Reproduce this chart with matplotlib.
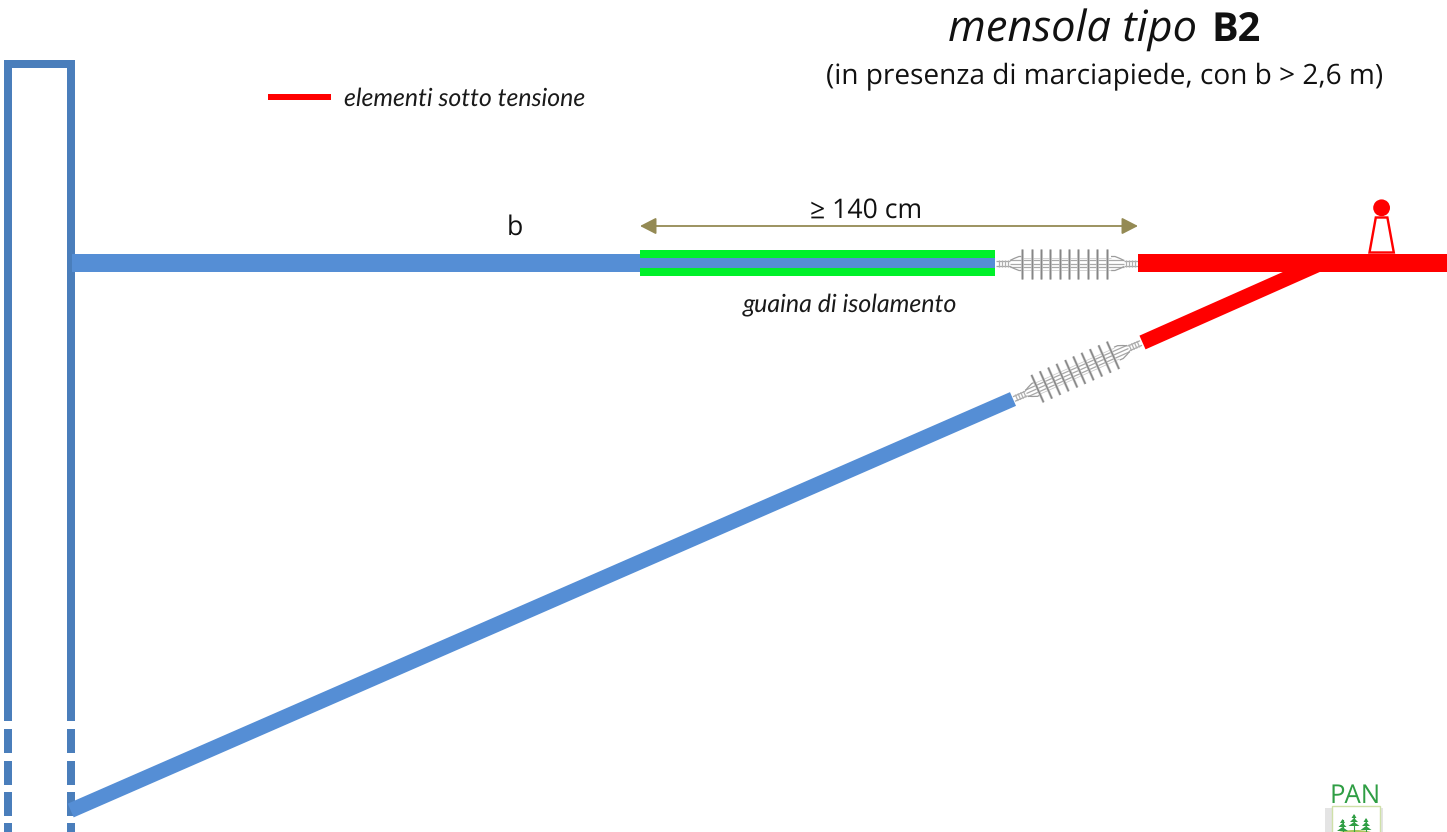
import matplotlib
matplotlib.use("Agg")
import matplotlib.pyplot as plt
from matplotlib.patches import Circle, Rectangle, Polygon, Ellipse
from numpy import array, hypot

plt.rcParams['text.hinting'] = 'none'

# everything is in picture pixels, y pointing down
W, H = 1447, 832
BLUE_POLE = '#4a7ebb'
BLUE_ARM = '#558ed5'
RED = '#ff0000'
GREEN = '#00f02a'
OLIVE = '#948a54'
GREY = '#9c9c9c'
LOGO_GREEN = '#2f9e44'

pole_x = [7.5, 71]
pole_top = 64
pole_solid_end = 721
dash_starts = [729, 760.5, 792, 823]
dash_len = 24

arm_start = 72
arm_end = 995
arm_y = 263
sleeve_start = 640
red_arm = [1138, 1447]

strut_blue = [(70.7, 810.5), (1013, 399)]
strut_red = [(1142.5, 342.5), (1322, 262.8)]

ins_h = [(996, 263.5), (1138, 263.5)]
ins_d = [(1014, 399), (1141, 343)]
shed_pos = [26.3, 35.7, 45, 54.3, 64, 73, 82.3, 91.7, 101.3, 110.7]
pin_rings = [3, 6, 9, 12, 130, 133, 136, 139]

bell_xy = (1381.6, 207.8)
bell_base = [(1375.8, 217.5), (1387.4, 217.5), (1393.8, 252.5), (1369.5, 252.5)]

tree_x = [1342.5, 1354, 1366]
tree_top = [820, 815, 819]


def px(v):
    return v * 0.72


def thick(ax, pts, width, color, z=2):
    xs, ys = zip(*pts)
    ax.plot(xs, ys, color=color, lw=px(width), solid_capstyle='butt', zorder=z)


def insulator(ax, ends):
    # draws the insulator in its own u,v frame and turns it onto the strut
    p0, p1 = array(ends[0], float), array(ends[1], float)
    d = (p1 - p0) / hypot(*(p1 - p0))
    n = array([-d[1], d[0]])
    L = hypot(*(p1 - p0))
    k = L / 142.0

    def line(us, vs, lw, col=GREY):
        pts = [p0 + d * u * k + n * v for u, v in zip(us, vs)]
        xs, ys = zip(*pts)
        ax.plot(xs, ys, color=col, lw=lw, solid_capstyle='butt', zorder=3)

    # core, three thin strands
    for v in (-3.5, 0, 3.5):
        line([14, 128], [v, v], 0.9, '#a8a8a8')
    # end pins
    for v in (-2.5, 2.5):
        line([0, 14], [v, v], 0.9, '#a8a8a8')
        line([128, 142], [v, v], 0.9, '#a8a8a8')
    for u in pin_rings:
        line([u, u], [-3.5, 3.5], 0.9, '#b0b0b0')
    # bells at both ends of the core
    for s in (1, -1):
        line([14, 18, 23, 27], [s * 3, s * 5, s * 7, s * 7], 0.9)
        line([128, 124, 119, 115], [s * 3, s * 5, s * 7, s * 7], 0.9)
        line([27, 115], [s * 6, s * 6], 0.5, '#c4c4c4')
    for s in shed_pos:
        line([s, s], [-15, 15], 1.9, '#c8c8c8')
        line([s, s], [-15, 15], 1.0, '#868686')


fig = plt.figure(figsize=(W / 100, H / 100), dpi=100, facecolor='w')
ax = fig.add_axes([0, 0, 1, 1])
ax.set_xlim(0, W)
ax.set_ylim(H, 0)
ax.axis('off')

# pole
for x in pole_x:
    thick(ax, [(x, 60), (x, pole_solid_end)], 8, BLUE_POLE)
    for s in dash_starts:
        thick(ax, [(x, s), (x, min(s + dash_len, H))], 8, BLUE_POLE)
thick(ax, [(3.5, pole_top), (75, pole_top)], 8, BLUE_POLE)

# arm and strut
ax.add_patch(Rectangle((sleeve_start, 250), arm_end - sleeve_start, 26, color=GREEN, lw=0, zorder=2))
thick(ax, [(arm_start, arm_y), (sleeve_start, arm_y)], 18, BLUE_ARM, 3)
thick(ax, [(sleeve_start, arm_y), (arm_end, arm_y)], 10, BLUE_ARM, 3)
thick(ax, strut_blue, 15, BLUE_ARM, 4)
thick(ax, [(red_arm[0], arm_y), (red_arm[1], arm_y)], 18, RED, 4)
thick(ax, strut_red, 15, RED, 4)

insulator(ax, ins_h)
insulator(ax, ins_d)

# live bell on top of the arm
ax.add_patch(Polygon(bell_base, closed=True, fc='w', ec=RED, lw=px(2.4), zorder=3))
ax.add_patch(Circle(bell_xy, 8.4, fc=RED, ec='none', zorder=4))

# dimension arrow
ax.annotate('', xy=(1138, 226), xytext=(640, 226),
            arrowprops=dict(arrowstyle='<|-|>,head_length=0.7,head_width=0.36', color=OLIVE,
                            lw=1.3, shrinkA=0, shrinkB=0, mutation_scale=14))

# legend
thick(ax, [(268, 96.5), (331, 96.5)], 6, RED)
ax.text(344, 98.5, 'elementi sotto tensione', fontsize=17.9, family='Lato', style='italic',
        color='#1a1a1a', va='center', ha='left')

ax.text(866, 211, '≥ 140 cm', fontsize=19.2, family='Open Sans', color='#111111', va='center', ha='center')
ax.text(515, 228, 'b', fontsize=19.2, family='Open Sans', color='#111111', va='center', ha='center')
ax.text(850, 305, 'guaina di isolamento', fontsize=18, family='Lato', style='italic',
        color='#1a1a1a', va='center', ha='center')

# title
ax.text(948, 41, 'mensola tipo', fontsize=31.2, family='Open Sans', style='italic', color='#111111',
        va='baseline', ha='left')
ax.text(1211, 41, 'B2', fontsize=28.5, family='Open Sans', weight='bold', color='#111111',
        va='baseline', ha='left')
ax.text(1383, 76, '(in presenza di marciapiede, con b > 2,6 m)', fontsize=20.15, family='Open Sans',
        color='#111111', va='center', ha='right')

# logo in the corner
ax.text(1355, 796, 'PAN', fontsize=18.5, family='Open Sans', color=LOGO_GREEN, va='center', ha='center')
ax.add_patch(Rectangle((1325, 808), 58, 24, color='#e4e4e4', lw=0, zorder=1))
ax.add_patch(Rectangle((1332, 806), 48, 27, fc='w', ec='#cfe0a8', lw=1, zorder=2))
ax.add_patch(Ellipse((1355, 834), 36, 8, color='#a9c65a', lw=0, zorder=2))
for x, top in zip(tree_x, tree_top):
    ax.plot([x, x], [top, 832], color=LOGO_GREEN, lw=0.8, zorder=3)
    for i in range(3):
        y = top + i * 4
        w = 2.5 + i * 1.5
        ax.add_patch(Polygon([(x - w, y + 3), (x + w, y + 3), (x, y - 1)], color=LOGO_GREEN, lw=0, zorder=3))

fig.savefig('out.png', dpi=100, facecolor='w')
